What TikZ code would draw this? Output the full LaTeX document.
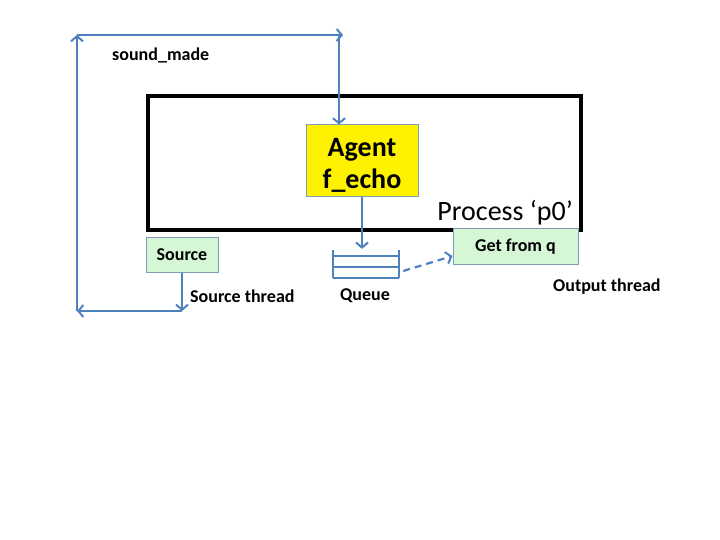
\documentclass[tikz,border=0pt]{standalone}
\usepackage{fontspec}
\setmainfont{Carlito}
\usetikzlibrary{arrows.meta}
\definecolor{lineblue}{HTML}{4F81BD}
\definecolor{boxgreen}{HTML}{D6F7D6}
\definecolor{boxedge}{HTML}{7F9DB9}
\tikzset{
  flow/.style={draw=lineblue, line width=2.2pt, -{Straight Barb[length=5pt,width=12pt,line width=2pt]}},
  greenbox/.style={draw=boxedge, line width=1pt, fill=boxgreen, inner sep=0pt, font=\bfseries\fontsize{18}{20}\selectfont},
  lbl/.style={font=\bfseries\fontsize{18}{20}\selectfont, inner sep=0pt}
}
\begin{document}
\begin{tikzpicture}[x=1pt,y=-1pt]
\useasboundingbox[fill=white] (0,0) rectangle (720,540);
% process box
\node[draw=black, line width=4pt, minimum width=433pt, minimum height=134pt, inner sep=0pt, anchor=north west] (proc) at (146,94) {};
\node[anchor=base east, inner sep=0pt, font=\fontsize{28}{32}\selectfont] (plabel) at (573,221) {Process ‘p0’};
% agent
\node[draw=boxedge, line width=1pt, fill=yellow, minimum width=112pt, minimum height=72pt, inner sep=0pt, align=center, font=\bfseries\fontsize{28}{32}\selectfont] (agent) at (362,161) {\rule{0pt}{27pt}Agent\\f\_echo};
% source
\node[greenbox, minimum width=72pt, minimum height=35pt] (source) at (182,254.5) {Source};
% get from q
\node[greenbox, minimum width=125pt, minimum height=35pt] (get) at (515.5,246.5) {Get from q};
% queue
\node[minimum width=66pt, minimum height=28pt, inner sep=0pt] (queue) at (366,264) {};
\draw[draw=lineblue, line width=2.2pt] (queue.north west) -- (queue.south west)
  (queue.north east) -- (queue.south east)
  ([yshift=-6pt]queue.north west) -- ([yshift=-6pt]queue.north east)
  ([yshift=-17pt]queue.north west) -- ([yshift=-17pt]queue.north east)
  (queue.south west) -- (queue.south east);
% labels
\node[lbl, anchor=west] (sm) at (112,55) {sound\_made};
\node[lbl, anchor=west] (st) at (190,296) {Source thread};
\node[lbl] (ql) at (365,296) {Queue};
\node[lbl, anchor=west] (ot) at (553,287) {Output thread};
% loop
\coordinate (c1) at (182,311);
\coordinate (c2) at (77,311);
\coordinate (c3) at (77,35);
\coordinate (c4) at (343,35);
\coordinate (c5) at (339,35);
\draw[flow] (source.south) -- (c1);
\draw[flow] (c1) -- (c2);
\draw[flow] (c2) -- (c3);
\draw[flow] (c3) -- (c4);
\draw[flow] (c5) -- (c5 |- agent.north);
\draw[flow, shorten >=1pt] (agent.south) -- (agent.south |- queue.north);
\draw[flow, dash pattern=on 7pt off 5pt] ([xshift=4pt,yshift=-7pt]queue.east) -- ([yshift=-9.5pt]get.west);
\end{tikzpicture}
\end{document}
